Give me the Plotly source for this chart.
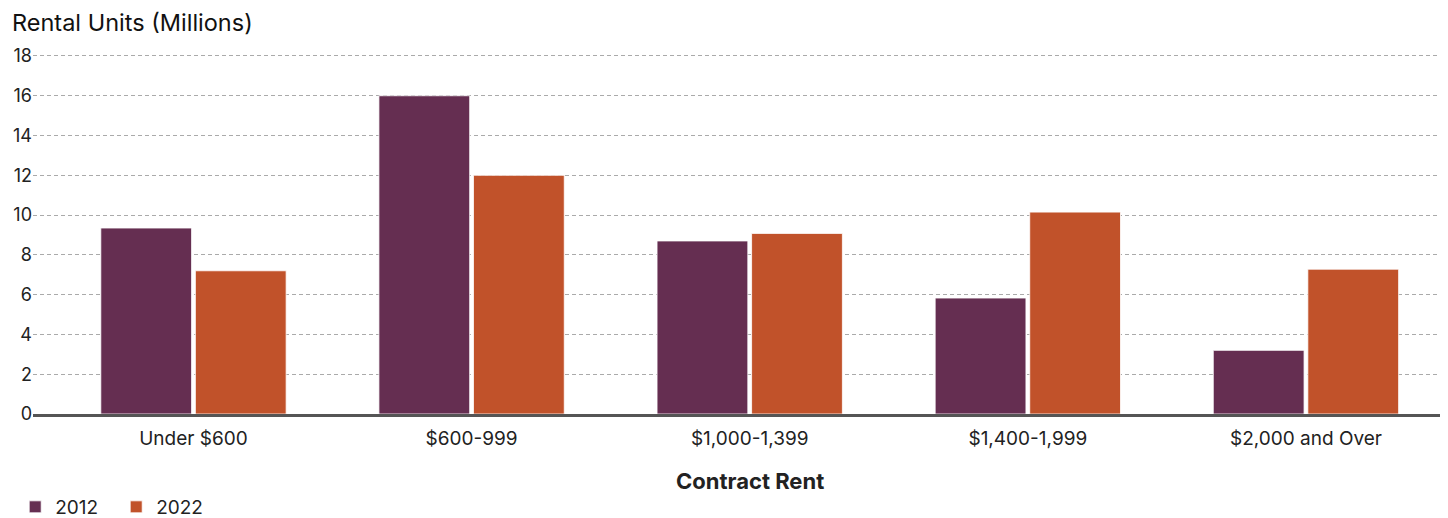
import plotly.graph_objects as go

categories = ["Under $600", "$600-999", "$1,000-1,399", "$1,400-1,999", "$2,000 and Over"]
units_2012 = [9.35, 16.0, 8.7, 5.83, 3.2]
units_2022 = [7.2, 12.0, 9.08, 10.15, 7.28]
series_names = ["2012", "2022"]
y_ticks = [0, 2, 4, 6, 8, 10, 12, 14, 16, 18]

FONT = "Inter"
PURPLE = "#652E51"
ORANGE = "#C1522A"
TEXT = "#222"

fig = go.Figure()
fig.add_trace(go.Bar(x=categories, y=units_2012, name=series_names[0],
                     marker=dict(color=PURPLE, line=dict(color="white", width=0.8))))
fig.add_trace(go.Bar(x=categories, y=units_2022, name=series_names[1],
                     marker=dict(color=ORANGE, line=dict(color="white", width=0.8))))

fig.update_layout(
    width=1440, height=510,
    margin=dict(l=25, r=8, t=44, b=104, autoexpand=False),
    paper_bgcolor="white", plot_bgcolor="white",
    barmode="group", bargap=0.32, bargroupgap=0.04,
    font=dict(family=FONT, size=18, color=TEXT),
    showlegend=True,
    legend=dict(orientation="h", x=0.005, xref="container", xanchor="left",
                y=0.0216, yref="container", yanchor="middle",
                font=dict(family=FONT, size=19, color=TEXT),
                itemwidth=30, tracegroupgap=0,
                entrywidth=56, entrywidthmode="pixels"),
    xaxis=dict(range=[-0.577, 4.482], showgrid=False, ticks="", automargin=False,
               showline=True, linecolor="#555", linewidth=2.5, ticklabelstandoff=5,
               tickfont=dict(family=FONT, size=19, color=TEXT)),
    yaxis=dict(range=[0, 18.2], tickvals=y_ticks, showgrid=True, gridcolor="#aaa",
               griddash="4px,3px", gridwidth=1, zeroline=False, showline=False,
               ticks="", automargin=False,
               tickfont=dict(family=FONT, size=18, color=TEXT)),
    annotations=[
        dict(text="Rental Units (Millions)", xref="paper", yref="paper",
             x=-0.0165, y=1.081, xanchor="left", yanchor="middle", showarrow=False,
             font=dict(family=FONT, size=23.5, color="#111")),
        dict(text="<b>Contract Rent</b>", xref="x", yref="paper",
             x=2, y=-0.185, xanchor="center", yanchor="middle", showarrow=False,
             font=dict(family=FONT, size=22, color=TEXT)),
    ],
)

fig.write_html("out.html")
